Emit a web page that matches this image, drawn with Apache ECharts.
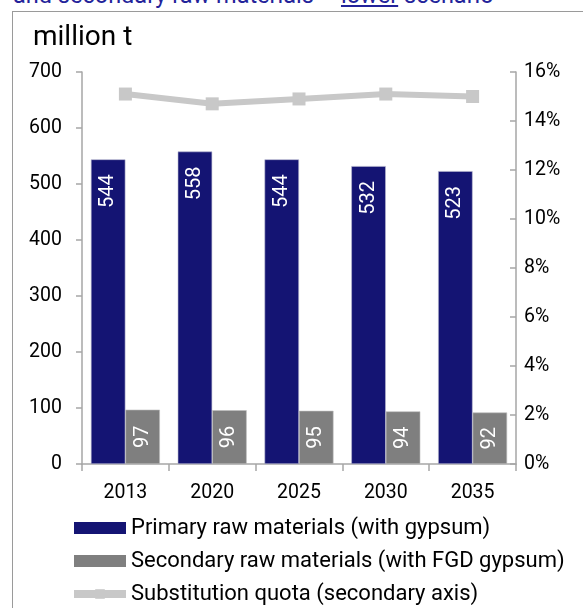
<!DOCTYPE html>
<html>
<head>
<meta charset="utf-8">
<script src="https://cdn.jsdelivr.net/npm/echarts@6/dist/echarts.min.js"></script>
<style>
html,body{margin:0;padding:0;background:#fff;overflow:hidden;}
#wrap{position:relative;width:583px;height:608px;overflow:hidden;}
#title{position:absolute;left:13px;top:-19px;font-family:Roboto,sans-serif;font-size:23.5px;color:#23239a;white-space:nowrap;}
#frame{position:absolute;left:12px;top:11px;width:700px;height:700px;border:1.5px solid #9a9a9a;box-sizing:border-box;}
#chart{position:absolute;left:0;top:0;width:583px;height:608px;}
</style>
</head>
<body>
<div id="wrap">
<div id="title">and secondary raw materials – <u>lower</u> scenario</div>
<div id="frame"></div>
<div id="chart"></div>
</div>
<script>
const categories = ['2013', '2020', '2025', '2030', '2035'];
const primaryValues = [544, 558, 544, 532, 523];
const secondaryValues = [97, 96, 95, 94, 92];
const quotaValues = [15.1, 14.7, 14.9, 15.1, 15.0];
const leftTicks = { min: 0, max: 700, interval: 100 };
const rightTicks = { min: 0, max: 16, interval: 2 };

const FONT = 'Roboto, sans-serif';
const chart = echarts.init(document.getElementById('chart'));
chart.setOption({
  animation: false,
  textStyle: { fontFamily: FONT },
  graphic: [{
    type: 'text', left: 33, top: 24,
    style: { text: 'million t', fontSize: 28, fill: '#000', fontFamily: FONT }
  }],
  grid: { left: 82, right: 67, top: 72, bottom: 144 },
  legend: {
    orient: 'vertical', left: 70, top: 517, padding: 0,
    itemWidth: 52, itemHeight: 12, itemGap: 11,
    itemStyle: { borderWidth: 0 },
    textStyle: { fontSize: 22, lineHeight: 22, color: '#000', fontFamily: FONT },
    data: [
      { name: 'Primary raw materials (with gypsum)', icon: 'rect' },
      { name: 'Secondary raw materials (with FGD gypsum)', icon: 'rect' },
      { name: 'Substitution quota (secondary axis)', lineStyle: { width: 8, color: '#c8c8c8' }, itemStyle: { color: '#c8c8c8' } }
    ]
  },
  xAxis: {
    type: 'category', data: categories,
    axisLine: { lineStyle: { color: '#a6a6a6', width: 1.5 } },
    axisTick: { show: true, length: 7, lineStyle: { color: '#a6a6a6', width: 1.5 } },
    axisLabel: { fontSize: 19.5, color: '#000', margin: 19, fontFamily: FONT }
  },
  yAxis: [{
    type: 'value', min: leftTicks.min, max: leftTicks.max, interval: leftTicks.interval,
    position: 'left',
    axisLine: { show: true, lineStyle: { color: '#a6a6a6', width: 1.5 } },
    axisTick: { show: true, length: 6, lineStyle: { color: '#a6a6a6', width: 1.5 } },
    axisLabel: { fontSize: 19.5, color: '#000', margin: 20, fontFamily: FONT },
    splitLine: { show: false }
  }, {
    type: 'value', min: rightTicks.min, max: rightTicks.max, interval: rightTicks.interval,
    position: 'right',
    axisLine: { show: true, lineStyle: { color: '#a6a6a6', width: 1.5 } },
    axisTick: { show: true, inside: true, length: 6, lineStyle: { color: '#a6a6a6', width: 1.5 } },
    axisLabel: { fontSize: 19.5, color: '#000', margin: 8, formatter: '{value}%', fontFamily: FONT },
    splitLine: { show: false }
  }],
  series: [{
    name: 'Primary raw materials (with gypsum)', type: 'bar', data: primaryValues,
    barWidth: 34.5, barGap: '0%',
    itemStyle: { color: '#141473', borderColor: '#b8b8d0', borderWidth: 0.6 },
    label: { show: true, position: 'insideTop', distance: 15, rotate: 90, align: 'right', verticalAlign: 'middle',
      color: '#fff', fontSize: 20, fontFamily: FONT }
  }, {
    name: 'Secondary raw materials (with FGD gypsum)', type: 'bar', data: secondaryValues,
    barWidth: 34.5,
    itemStyle: { color: '#7f7f7f', borderColor: '#bdbdbd', borderWidth: 0.6 },
    label: { show: true, position: 'inside', rotate: 90, align: 'center', verticalAlign: 'middle',
      color: '#fff', fontSize: 20, fontFamily: FONT }
  }, {
    name: 'Substitution quota (secondary axis)', type: 'line', yAxisIndex: 1, data: quotaValues,
    symbol: 'rect', symbolSize: 13,
    lineStyle: { color: '#c8c8c8', width: 6 },
    itemStyle: { color: '#c8c8c8' }
  }]
});
</script>
</body>
</html>
